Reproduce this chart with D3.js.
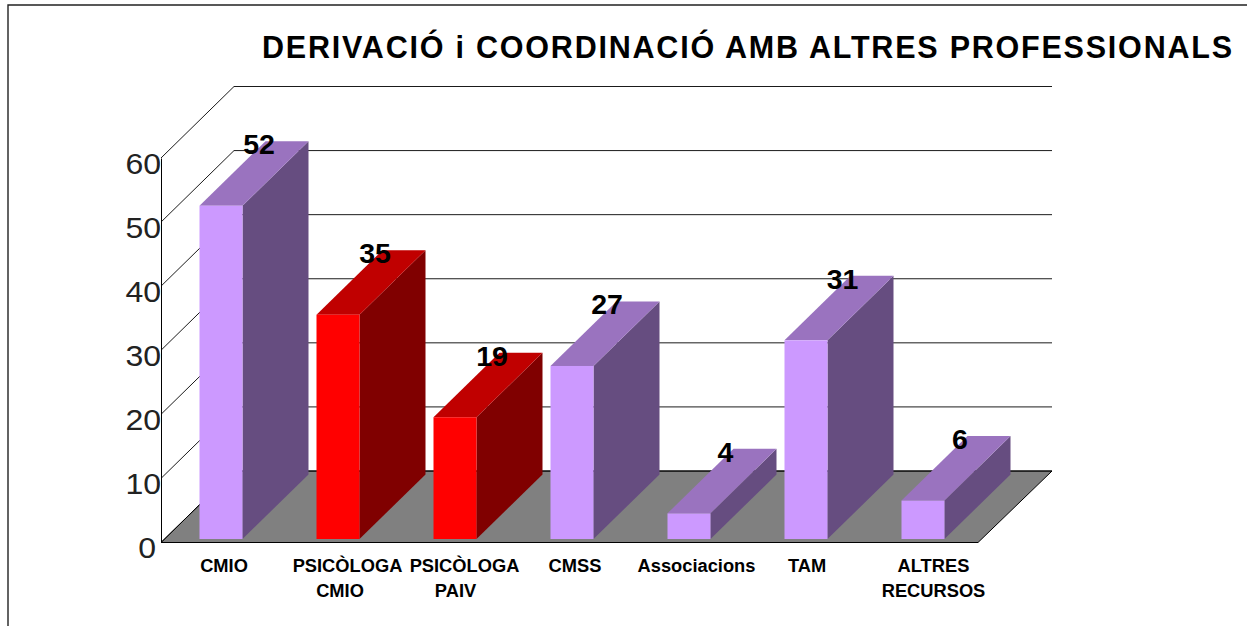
<!DOCTYPE html>
<html>
<head>
<meta charset="utf-8">
<script src="https://cdn.jsdelivr.net/npm/d3@7"></script>
<style>
  html, body { margin: 0; padding: 0; background: #fff; overflow: hidden; }
  text { font-family: "Liberation Sans", Arial, sans-serif; fill: #000; }
</style>
</head>
<body>
<script>
const titleText = "DERIVACIÓ i COORDINACIÓ AMB ALTRES PROFESSIONALS";
const categories = ["CMIO", "PSICÒLOGA CMIO", "PSICÒLOGA PAIV", "CMSS", "Associacions", "TAM", "ALTRES RECURSOS"];
const categoryLines = [["CMIO"], ["PSICÒLOGA", "CMIO"], ["PSICÒLOGA", "PAIV"], ["CMSS"], ["Associacions"], ["TAM"], ["ALTRES", "RECURSOS"]];
const values = [52, 35, 19, 27, 4, 31, 6];
const seriesKind = ["lilac", "red", "red", "lilac", "lilac", "lilac", "lilac"];
const yTicks = [0, 10, 20, 30, 40, 50, 60];

const width = 1247, height = 626;

// floor / wall projection
const plot = { left: 161, right: 978, bottom: 542.5, top: 158 };
const depth = { dx: 73, dy: 71.5 };
const barDepth = { dx: 66, dy: 64.5, inset: 3.5 };

const palette = {
  lilac: { front: "#cc99ff", top: "#9a73bf", side: "#664d80" },
  red: { front: "#ff0000", top: "#c00000", side: "#800000" }
};

// the labels in the picture are not quite centred under the bars, one shift per line
const labelNudge = [[3], [9.5, 2], [9.5, 0.5], [3], [7.5], [1], [10.5, 10.5]];
const valueNudge = [38, 37, 37, 35, 36.5, 36.5, 37];

const svg = d3.select("body").append("svg")
  .attr("width", width)
  .attr("height", height)
  .style("display", "block");

const x = d3.scaleBand()
  .domain(categories)
  .range([162.5, 981.5])
  .paddingInner(1 - 43 / 117)
  .paddingOuter((1 - 43 / 117) / 2);

const y = d3.scaleLinear().domain([0, 60]).range([plot.bottom, plot.top]);

const polygon = d3.line();

// outer frame, only top and left are inside the picture
svg.append("path")
  .attr("d", polygon([[8, height], [8, 5], [width, 5]]))
  .attr("fill", "none")
  .attr("stroke", "#222")
  .attr("stroke-width", 1.4);

// floor
svg.append("path")
  .attr("d", polygon([
    [plot.left, plot.bottom],
    [plot.left + depth.dx, plot.bottom - depth.dy],
    [plot.right + depth.dx + 1, plot.bottom - depth.dy],
    [plot.right, plot.bottom]
  ]) + "Z")
  .attr("fill", "#808080")
  .attr("stroke", "#000")
  .attr("stroke-width", 1);

// gridlines on side and back walls
svg.append("g")
  .selectAll("path")
  .data(yTicks)
  .join("path")
  .attr("d", d => polygon([
    [plot.left, y(d)],
    [plot.left + depth.dx, y(d) - depth.dy],
    [plot.right + depth.dx + 1, y(d) - depth.dy]
  ]))
  .attr("fill", "none")
  .attr("stroke", "#000")
  .attr("stroke-width", 0.9);

// y axis
const yAxis = svg.append("g")
  .attr("transform", `translate(${plot.left},0)`)
  .call(d3.axisLeft(y).tickValues(yTicks).tickSize(0).tickPadding(0));

yAxis.select(".domain").attr("stroke", "#000").attr("stroke-width", 1);
yAxis.selectAll("text")
  .attr("font-family", null)
  .style("font-size", "29px")
  .style("fill", "#222")
  .attr("dy", null)
  .attr("y", 15)
  .attr("x", d => (d === 0 ? -5 : 0))
  .attr("textLength", d => String(d).length * 17.8)
  .attr("lengthAdjust", "spacingAndGlyphs");

// bars, each one sits slightly in from the floor's front edge
const bars = svg.append("g")
  .selectAll("g")
  .data(categories)
  .join("g")
  .each(function(c, i) {
    const g = d3.select(this);
    const colors = palette[seriesKind[i]];
    const x0 = x(c);
    const x1 = x0 + x.bandwidth();
    const yBase = y(0) - barDepth.inset;
    const yTop = y(values[i]) - barDepth.inset;
    const dx = barDepth.dx, dy = barDepth.dy;

    g.append("path")
      .attr("d", polygon([[x1, yBase], [x1 + dx, yBase - dy], [x1 + dx, yTop - dy], [x1, yTop]]) + "Z")
      .attr("fill", colors.side);
    g.append("path")
      .attr("d", polygon([[x0, yTop], [x1, yTop], [x1 + dx, yTop - dy], [x0 + dx, yTop - dy]]) + "Z")
      .attr("fill", colors.top);
    g.append("rect")
      .attr("x", x0)
      .attr("y", yTop)
      .attr("width", x.bandwidth())
      .attr("height", yBase - yTop)
      .attr("fill", colors.front);
  });

// value labels
svg.append("g")
  .selectAll("text")
  .data(categories)
  .join("text")
  .attr("x", (c, i) => x(c) + x.bandwidth() / 2 + valueNudge[i])
  .attr("y", (c, i) => y(values[i]) - barDepth.inset - 51.5)
  .attr("text-anchor", "middle")
  .style("font-size", "28.5px")
  .style("font-weight", "bold")
  .text((c, i) => values[i]);

// category labels
svg.append("g")
  .selectAll("text")
  .data(categories)
  .join("text")
  .attr("text-anchor", "middle")
  .style("font-size", "18.3px")
  .style("font-weight", "bold")
  .each(function(c, i) {
    const t = d3.select(this);
    categoryLines[i].forEach((line, j) => {
      t.append("tspan")
        .attr("x", x(c) + x.bandwidth() / 2 + labelNudge[i][j])
        .attr("y", 572 + j * 25)
        .text(line);
    });
  });

// title
svg.append("text")
  .attr("x", 262)
  .attr("y", 58)
  .attr("textLength", 970)
  .attr("lengthAdjust", "spacing")
  .style("font-size", "30.5px")
  .style("font-weight", "bold")
  .text(titleText);
</script>
</body>
</html>
